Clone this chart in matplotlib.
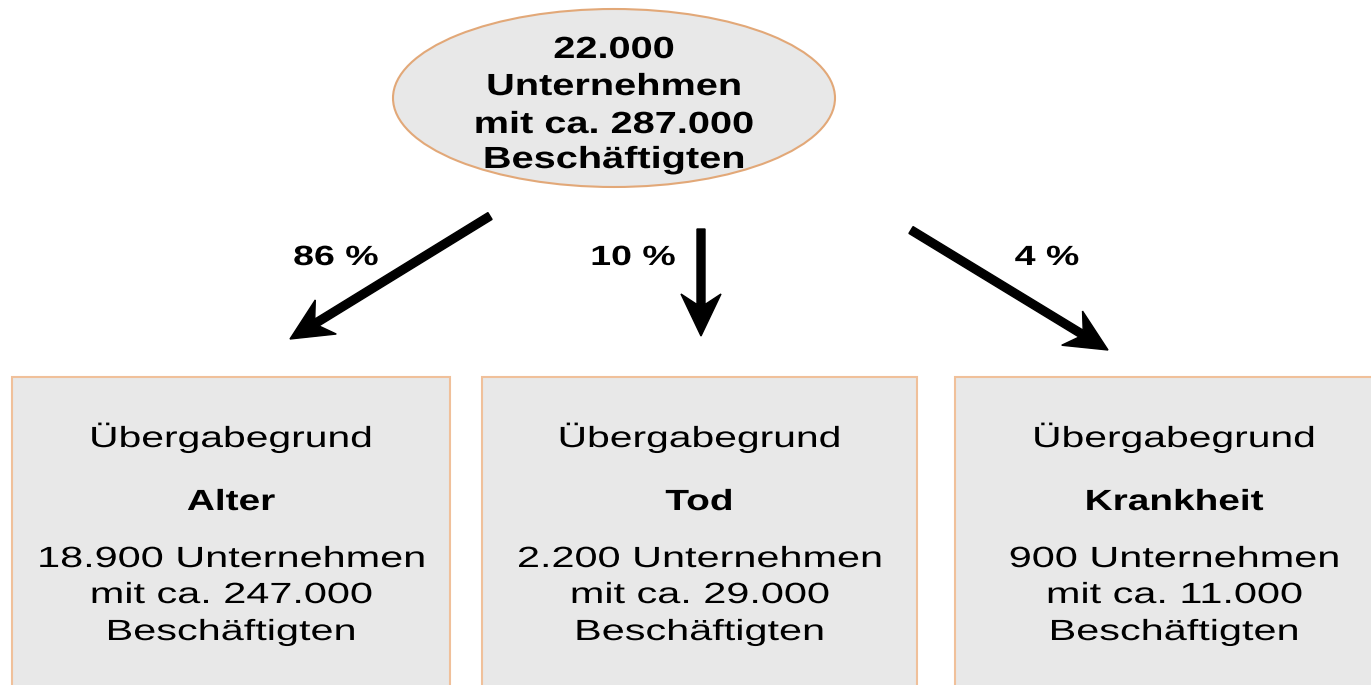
import matplotlib.pyplot as plt
from matplotlib.patches import Ellipse, Rectangle, FancyArrow
from matplotlib.patheffects import AbstractPathEffect
from matplotlib.transforms import Affine2D

# Daten
total_firmen = "22.000"
total_beschaeftigte = "287.000"
gruende = ["Alter", "Tod", "Krankheit"]
anteile = ["86 %", "10 %", "4 %"]
firmen = ["18.900", "2.200", "900"]
beschaeftigte = ["247.000", "29.000", "11.000"]

plt.rcParams['font.family'] = ['Liberation Sans', 'DejaVu Sans']


class Breit(AbstractPathEffect):
    # Schrift horizontal strecken (die Vorlage ist breit gezogen)
    def __init__(self, sx, cx):
        super().__init__()
        self.sx = sx
        self.cx = cx

    def draw_path(self, renderer, gc, tpath, affine, rgbFace=None):
        t = affine + Affine2D().translate(-self.cx, 0).scale(self.sx, 1).translate(self.cx, 0)
        renderer.draw_path(gc, tpath, t, rgbFace)


def text(x, y, s, size, sx, bold=False):
    ax.text(x, y, s, ha='center', va='baseline', fontsize=size,
            fontweight='bold' if bold else 'normal',
            path_effects=[Breit(sx, x)])


fig = plt.figure(figsize=(13.71, 6.85), dpi=100)
ax = fig.add_axes([0, 0, 1, 1])
ax.set_xlim(0, 1371)
ax.set_ylim(685, 0)
ax.axis('off')

fill = '#e8e8e8'

# Ellipse oben
ax.add_patch(Ellipse((614, 98), 442, 178, facecolor=fill, edgecolor='#e2a878', linewidth=1.5))
oben = [total_firmen, "Unternehmen", f"mit ca. {total_beschaeftigte}", "Beschäftigten"]
for y, s in zip([58, 95, 133, 168], oben):
    text(614, y, s, 22, 1.3, bold=True)

# Kästen unten
boxes = [(12, 450), (482, 917), (955, 1393)]
for (x0, x1), grund, n, b in zip(boxes, gruende, firmen, beschaeftigte):
    ax.add_patch(Rectangle((x0, 377), x1 - x0, 330, facecolor=fill, edgecolor='#f0c09a', linewidth=1.5))
    cx = (x0 + x1) / 2
    text(cx, 447, "Übergabegrund", 21, 1.4)
    text(cx, 510, grund, 21, 1.33, bold=True)
    text(cx, 567, f"{n} Unternehmen", 21, 1.42)
    text(cx, 603, f"mit ca. {b}", 21, 1.42)
    text(cx, 640, "Beschäftigten", 21, 1.42)

# Pfeile
pfeile = [((490, 216), (290, 339)), ((701, 229), (701, 336)), ((911, 230), (1108, 350))]
for (xa, ya), (xb, yb) in pfeile:
    ax.add_patch(FancyArrow(xa, ya, xb - xa, yb - ya, width=8, head_width=40, head_length=42,
                            overhang=0.25, length_includes_head=True, color='black'))

for x, a in zip([336, 633, 1047], anteile):
    text(x, 265, a, 20, 1.35, bold=True)

fig.savefig('out.png', dpi=100)
